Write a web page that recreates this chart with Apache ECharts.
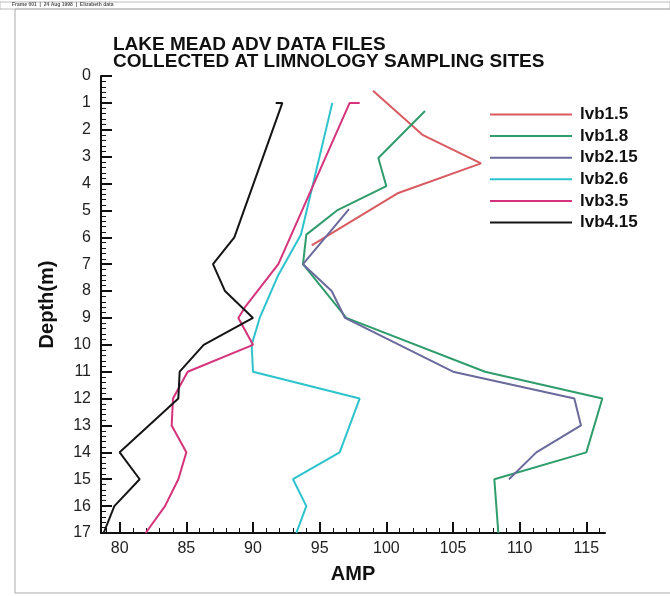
<!DOCTYPE html>
<html>
<head>
<meta charset="utf-8">
<script src="https://cdn.jsdelivr.net/npm/echarts@6/dist/echarts.min.js"></script>
<style>html,body{margin:0;padding:0;background:#fff}#c{width:670px;height:596px}</style>
</head>
<body>
<div id="c"></div>
<script>
// ---- data (AMP vs depth in m) ----
var seriesNames = ['lvb1.5', 'lvb1.8', 'lvb2.15', 'lvb2.6', 'lvb3.5', 'lvb4.15'];

var lvb1_5_amp   = [99.0, 102.75, 107.1, 100.9, 94.4];
var lvb1_5_depth = [0.55, 2.2, 3.25, 4.35, 6.3];

var lvb1_8_amp   = [102.9, 99.4, 100.0, 96.3, 94.0, 93.75, 97.0, 107.4, 116.2, 115.0, 108.1, 108.4];
var lvb1_8_depth = [1.3, 3.05, 4.1, 5.0, 5.9, 7.0, 9.0, 11.0, 12.0, 14.0, 15.0, 17.0];

var lvb2_15_amp   = [97.2, 93.75, 95.9, 96.9, 105.0, 114.1, 114.6, 111.25, 109.2];
var lvb2_15_depth = [4.95, 7.0, 8.0, 9.0, 11.0, 12.0, 13.0, 14.0, 15.0];

var lvb2_6_amp   = [95.95, 93.6, 91.9, 90.5, 89.9, 90.0, 98.0, 96.5, 93.0, 94.0, 93.25];
var lvb2_6_depth = [1.0, 5.9, 7.4, 9.0, 10.0, 11.0, 12.0, 14.0, 15.0, 16.0, 17.0];

var lvb3_5_amp   = [98.0, 97.25, 91.9, 89.4, 88.9, 90.0, 85.1, 84.0, 83.9, 85.0, 84.4, 83.4, 81.95];
var lvb3_5_depth = [1.0, 1.0, 7.0, 8.6, 9.0, 10.0, 11.0, 12.0, 13.0, 14.0, 15.0, 16.0, 17.0];

var lvb4_15_amp   = [91.7, 92.2, 88.6, 87.0, 87.9, 90.0, 86.3, 84.5, 84.4, 80.0, 81.5, 79.6, 78.8];
var lvb4_15_depth = [1.0, 1.0, 6.0, 7.0, 8.0, 9.0, 10.0, 11.0, 12.0, 14.0, 15.0, 16.0, 17.0];

var xTickLabels = [80, 85, 90, 95, 100, 105, 110, 115];
var xMinorTicks = [79, 81, 82, 83, 84, 86, 87, 88, 89, 91, 92, 93, 94, 96, 97, 98, 99,
                   101, 102, 103, 104, 106, 107, 108, 109, 111, 112, 113, 114, 116];
var yTickLabels = [0, 1, 2, 3, 4, 5, 6, 7, 8, 9, 10, 11, 12, 13, 14, 15, 16, 17];

var titleLines = ['LAKE MEAD ADV DATA FILES', 'COLLECTED AT LIMNOLOGY SAMPLING SITES'];
var headerText = 'Frame 001  |  24 Aug 1998  |  Elizabeth data';

// ---- build ----
function pairs(a, d) { var r = []; for (var i = 0; i < a.length; i++) r.push([a[i], d[i]]); return r; }
var allAmp = [lvb1_5_amp, lvb1_8_amp, lvb2_15_amp, lvb2_6_amp, lvb3_5_amp, lvb4_15_amp];
var allDepth = [lvb1_5_depth, lvb1_8_depth, lvb2_15_depth, lvb2_6_depth, lvb3_5_depth, lvb4_15_depth];
var colors = ['#d95a60', '#2f9c6c', '#6a6a9c', '#2cc3cc', '#d5347c', '#151515'];

var FONT = '"Liberation Sans", Arial, Helvetica, sans-serif';
var series = [];
for (var s = 0; s < seriesNames.length; s++) {
  series.push({
    name: seriesNames[s], type: 'line', xAxisIndex: 0, yAxisIndex: 0,
    data: pairs(allAmp[s], allDepth[s]),
    symbol: 'none', smooth: false, animation: false,
    lineStyle: { color: colors[s], width: 2 },
    itemStyle: { color: colors[s] }
  });
}

var G = { left: 101, top: 76, width: 504, height: 457, containLabel: false };

var chart = echarts.init(document.getElementById('c'), null, { renderer: 'canvas' });
chart.setOption({
  backgroundColor: '#ffffff',
  animation: false,
  grid: [G, { left: G.left, top: G.top, width: G.width, height: G.height, containLabel: false }],
  xAxis: [{
    type: 'value', gridIndex: 0, min: 78.6, max: 116.4, position: 'bottom',
    name: 'AMP', nameLocation: 'middle', nameGap: 31,
    nameTextStyle: { fontFamily: FONT, fontWeight: 'bold', fontSize: 20, color: '#111' },
    axisLine: { show: true, onZero: false, lineStyle: { color: '#111', width: 2 } },
    axisTick: { show: true, inside: true, length: 11, customValues: xTickLabels, lineStyle: { color: '#111', width: 2 } },
    axisLabel: { show: true, customValues: xTickLabels, margin: 8, fontFamily: FONT, fontSize: 16, color: '#222' },
    splitLine: { show: false }
  }, {
    type: 'value', gridIndex: 1, min: 78.6, max: 116.4, position: 'bottom',
    axisLine: { show: false, onZero: false },
    axisTick: { show: true, inside: true, length: 5, customValues: xMinorTicks, lineStyle: { color: '#111', width: 1 } },
    axisLabel: { show: false },
    splitLine: { show: false }
  }],
  yAxis: [{
    type: 'value', gridIndex: 0, inverse: true, min: 0, max: 17, interval: 1,
    name: 'Depth(m)', nameLocation: 'middle', nameGap: 44, nameRotate: 90,
    nameTextStyle: { fontFamily: FONT, fontWeight: 'bold', fontSize: 20, color: '#111' },
    axisLine: { show: true, onZero: false, lineStyle: { color: '#111', width: 2 } },
    axisTick: { show: true, inside: true, length: 11, lineStyle: { color: '#111', width: 2 } },
    minorTick: { show: true, splitNumber: 5, length: 5, lineStyle: { color: '#111', width: 1 } },
    axisLabel: { show: true, margin: 10, fontFamily: FONT, fontSize: 16, color: '#222',
      formatter: function (v) { return yTickLabels.indexOf(v) >= 0 ? String(v) : ''; } },
    splitLine: { show: false }
  }, {
    type: 'value', gridIndex: 1, inverse: true, min: 0, max: 17, interval: 1,
    axisLine: { show: false }, axisTick: { show: false }, axisLabel: { show: false }, splitLine: { show: false }
  }],
  legend: {
    data: seriesNames, orient: 'vertical', left: 490, top: 106, padding: 0,
    itemWidth: 82, itemHeight: 17, itemGap: 4.6,
    icon: 'path://M0,8 L82,8 L82,10 L0,10 Z',
    textStyle: { fontFamily: FONT, fontWeight: 'bold', fontSize: 17, lineHeight: 17, color: '#111', padding: [0, 0, 0, 3] }
  },
  graphic: [
    { type: 'rect', shape: { x: 15, y: 9, width: 660, height: 584 }, style: { fill: 'none', stroke: '#aaa', lineWidth: 1 }, silent: true },
    { type: 'rect', shape: { x: 0, y: 2, width: 670, height: 7 }, style: { fill: 'none', stroke: '#bbb', lineWidth: 1 }, silent: true },
    { type: 'text', left: 12, top: 2, style: { text: headerText, font: 'bold 5px ' + FONT, fill: '#555' }, silent: true },
    { type: 'text', left: 113, top: 35, style: { text: titleLines.join('\n'), font: 'bold 19px ' + FONT, fill: '#111', lineHeight: 17 }, silent: true }
  ],
  series: series
});
</script>
</body>
</html>
